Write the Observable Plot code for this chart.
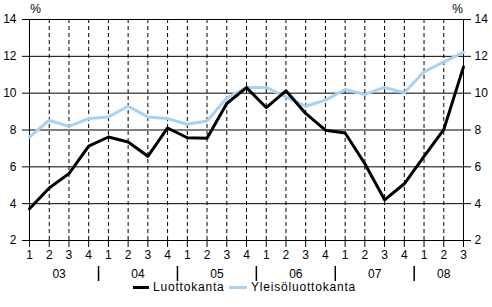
<!DOCTYPE html>
<html>
<head>
<meta charset="utf-8">
<script src="https://cdn.jsdelivr.net/npm/d3@7"></script>
<script src="https://cdn.jsdelivr.net/npm/@observablehq/plot@0.6"></script>
<style>
  html, body { margin: 0; padding: 0; background: #fff; }
  #wrap { position: relative; width: 492px; height: 307px; font-family: "Liberation Sans", Arial, sans-serif; }
  #chart svg { display: block; }
  #legend { position: absolute; left: 0; top: 281px; width: 492px; height: 14px; font-size: 12px; letter-spacing: 0.8px; color: #000; }
  .sw { position: absolute; top: 5px; height: 3px; }
  .lab { position: absolute; top: 0px; line-height: 13px; }
</style>
</head>
<body>
<div id="wrap"><div id="chart"></div><div id="legend"></div></div>
<script>
const quarters = ["1","2","3","4","1","2","3","4","1","2","3","4","1","2","3","4","1","2","3","4","1","2","3"];
const years = ["03","04","05","06","07","08"];
const quartersPerYear = [4,4,4,4,4,3];
const luottokanta = [3.72,4.85,5.63,7.12,7.62,7.35,6.57,8.11,7.58,7.55,9.44,10.3,9.22,10.13,8.9,7.99,7.84,6.17,4.21,5.08,6.57,8.02,11.43];
const yleisoluottokanta = [7.62,8.53,8.2,8.62,8.71,9.29,8.71,8.62,8.31,8.49,9.74,10.31,10.31,9.8,9.29,9.62,10.2,9.93,10.31,10.02,11.16,11.7,12.21];
const yTicks = [2,4,6,8,10,12,14];
const seriesNames = ["Luottokanta", "Yleisöluottokanta"];
const seriesColors = ["#000000", "#a6d2f5"];

const idx = quarters.map((_, i) => i);
const last = quarters.length - 1;
let start = 0;
const yearRows = [], seps = [];
quartersPerYear.forEach((n, k) => {
  yearRows.push({label: years[k], x: start + (n - 1) / 2});
  start += n;
  if (k < quartersPerYear.length - 1) seps.push(start - 0.5);
});

const H = 281, mTop = 19, mBottom = 41;
const pxPerUnit = (H - mTop - mBottom) / (yTicks[yTicks.length-1] - yTicks[0]);
const yMin = yTicks[0];
const pxToY = px => yMin - px / pxPerUnit;

const chart = Plot.plot({
  width: 492,
  height: H,
  marginLeft: 29,
  marginRight: 29,
  marginTop: mTop,
  marginBottom: mBottom,
  style: {fontFamily: "Liberation Sans, Arial, sans-serif", fontSize: "12px", color: "#000", background: "#fff", overflow: "visible"},
  x: {domain: [0, last], axis: null},
  y: {domain: [yMin, yTicks[yTicks.length-1]], axis: null},
  marks: [
    Plot.ruleX(idx.slice(1, last), {y1: yMin, y2: yTicks[yTicks.length-1], stroke: "#000", strokeDasharray: "4,3"}),
    Plot.ruleY(yTicks, {stroke: "#000"}),
    Plot.ruleX([0, last], {y1: yMin, y2: yTicks[yTicks.length-1], stroke: "#000"}),
    Plot.axisY({anchor: "left", ticks: yTicks, tickSize: 7, tickPadding: 6, tickFormat: d => String(d), label: null, stroke: "#000", fill: "#000", fontSize: 12}),
    Plot.axisY({anchor: "right", ticks: yTicks, tickSize: 7, tickPadding: 4, tickFormat: d => String(d), label: null, stroke: "#000", fill: "#000", fontSize: 12}),
    Plot.axisX({anchor: "bottom", ticks: idx, tickSize: 7, tickPadding: 3, tickFormat: i => quarters[i], label: null, stroke: "#000", fill: "#000", fontSize: 12}),
    Plot.text(yearRows, {x: "x", y: yMin, text: "label", dy: 34, fill: "#000", fontSize: 12, letterSpacing: 1}),
    Plot.ruleX(seps, {y1: pxToY(26), y2: pxToY(41), stroke: "#000", strokeWidth: 1.5}),
    Plot.text(["%"], {x: 0, y: yTicks[yTicks.length-1], dx: 6, dy: -10, fill: "#000", fontSize: 12}),
    Plot.text(["%"], {x: last, y: yTicks[yTicks.length-1], dx: -6, dy: -10, fill: "#000", fontSize: 12}),
    Plot.line(yleisoluottokanta, {x: (d, i) => i, y: d => d, stroke: seriesColors[1], strokeWidth: 3}),
    Plot.line(luottokanta, {x: (d, i) => i, y: d => d, stroke: seriesColors[0], strokeWidth: 3})
  ]
});
document.getElementById("chart").appendChild(chart);

const legend = document.getElementById("legend");
const legendPos = [{sw: 133, w: 16, lab: 153}, {sw: 229, w: 18, lab: 251}];
seriesNames.forEach((name, k) => {
  const s = document.createElement("span");
  s.className = "sw";
  s.style.left = legendPos[k].sw + "px";
  s.style.width = legendPos[k].w + "px";
  s.style.background = seriesColors[k];
  legend.appendChild(s);
  const t = document.createElement("span");
  t.className = "lab";
  t.style.left = legendPos[k].lab + "px";
  t.textContent = name;
  legend.appendChild(t);
});
</script>
</body>
</html>
